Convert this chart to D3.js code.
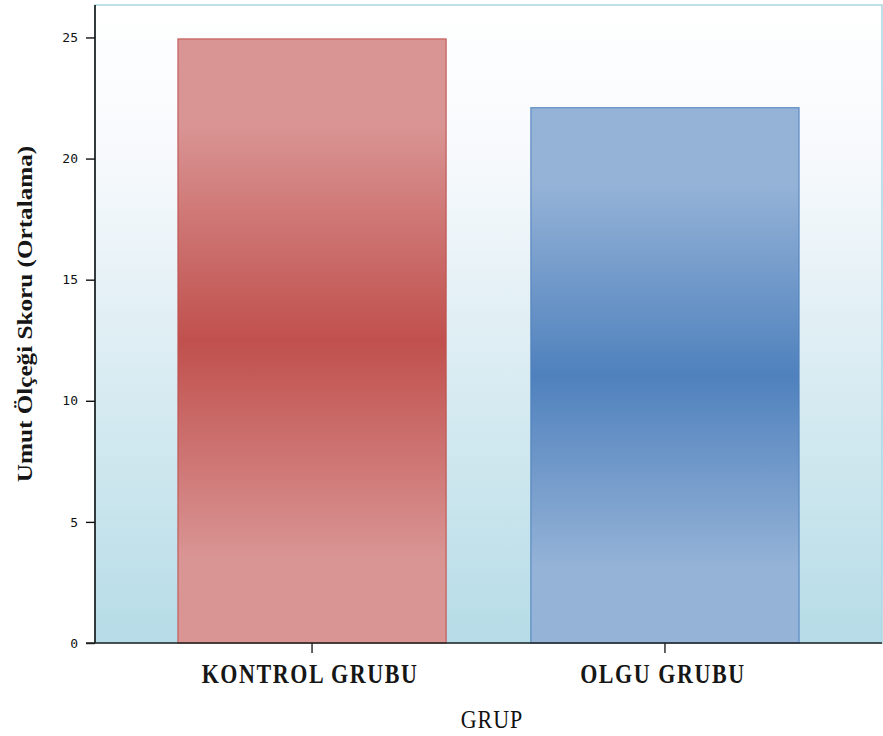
<!DOCTYPE html>
<html>
<head>
<meta charset="utf-8">
<script src="https://cdn.jsdelivr.net/npm/d3@7/dist/d3.min.js"></script>
<style>
  html, body { margin: 0; padding: 0; background: #ffffff; }
  svg { display: block; }
</style>
</head>
<body>
<svg id="chart" width="883" height="736"></svg>
<script>
// Mean hope-scale score by group
const categories = ["KONTROL GRUBU", "OLGU GRUBU"];
const meanScores = [24.94, 22.1];
const yTicks = [0, 5, 10, 15, 20, 25];
const barLight = ["#d99594", "#95b3d7"];
const barDark = ["#c0504d", "#4f81bd"];
const barStroke = ["#c0504d", "#4f81bd"];

const svg = d3.select("#chart");
const margin = { left: 95, top: 5, right: 1, bottom: 93 };
const W = 883, H = 736;
const plotW = W - margin.left - margin.right;
const plotH = H - margin.top - margin.bottom;
const serif = "'Liberation Serif', 'Times New Roman', serif";

const defs = svg.append("defs");

// Plot background: white at the top fading to pale blue at the bottom
const bg = defs.append("linearGradient").attr("id", "bgGrad")
  .attr("x1", 0).attr("y1", 0).attr("x2", 0).attr("y2", 1);
bg.append("stop").attr("offset", "0%").attr("stop-color", "#ffffff");
bg.append("stop").attr("offset", "25%").attr("stop-color", "#f6f9fc");
bg.append("stop").attr("offset", "55%").attr("stop-color", "#dcedf3");
bg.append("stop").attr("offset", "100%").attr("stop-color", "#b6dce7");

// Bar gradients: lighter at both ends, saturated in the middle
categories.forEach((c, i) => {
  const g = defs.append("linearGradient").attr("id", "barGrad" + i)
    .attr("x1", 0).attr("y1", 0).attr("x2", 0).attr("y2", 1);
  g.append("stop").attr("offset", "0%").attr("stop-color", barLight[i]);
  g.append("stop").attr("offset", "14%").attr("stop-color", barLight[i]);
  g.append("stop").attr("offset", "50%").attr("stop-color", barDark[i]);
  g.append("stop").attr("offset", "86%").attr("stop-color", barLight[i]);
  g.append("stop").attr("offset", "100%").attr("stop-color", barLight[i]);
});

const x = d3.scaleBand().domain(categories)
  .range([margin.left, margin.left + plotW]).paddingInner(0.24).paddingOuter(0.235);
const y = d3.scaleLinear().domain([0, 26.34]).range([margin.top + plotH, margin.top]);

// background + frame
svg.append("rect")
  .attr("x", margin.left).attr("y", margin.top)
  .attr("width", plotW).attr("height", plotH)
  .attr("fill", "url(#bgGrad)")
  .attr("stroke", "#a8d6e3").attr("stroke-width", 1.5);

// bars
svg.selectAll("rect.bar").data(categories).join("rect")
  .attr("class", "bar")
  .attr("x", d => x(d))
  .attr("width", x.bandwidth())
  .attr("y", (d, i) => y(meanScores[i]))
  .attr("height", (d, i) => y(0) - y(meanScores[i]))
  .attr("fill", (d, i) => "url(#barGrad" + i + ")")
  .attr("stroke", (d, i) => barStroke[i])
  .attr("stroke-opacity", 0.85)
  .attr("stroke-width", 1.2);

// y axis
const yAxis = svg.append("g")
  .attr("transform", `translate(${margin.left},0)`)
  .call(d3.axisLeft(y).tickValues(yTicks).tickSize(9).tickPadding(8).tickSizeOuter(0));
yAxis.select(".domain").attr("stroke", "#111").attr("stroke-width", 1.6)
  .attr("d", `M0,${margin.top}V${margin.top + plotH}`);
yAxis.selectAll(".tick line").attr("stroke", "#111").attr("stroke-width", 1.4);
yAxis.selectAll(".tick text")
  .attr("font-family", "'DejaVu Sans Mono', monospace")
  .attr("font-size", 13).attr("fill", "#111");

// x axis (ticks only; labels drawn below)
const xAxis = svg.append("g")
  .attr("transform", `translate(0,${margin.top + plotH})`)
  .call(d3.axisBottom(x).tickSize(10).tickSizeOuter(0).tickFormat(""));
xAxis.select(".domain").attr("stroke", "#222").attr("stroke-width", 1.6)
  .attr("d", `M${margin.left - 9},0H${margin.left + plotW}`);
xAxis.selectAll(".tick line").attr("stroke", "#222").attr("stroke-width", 1.4);

// category labels
svg.selectAll("text.cat").data(categories).join("text")
  .attr("class", "cat")
  .attr("transform", d => `translate(${x(d) + x.bandwidth() / 2 - 2},683) scale(1,1.22)`)
  .attr("text-anchor", "middle")
  .attr("font-family", serif)
  .attr("font-weight", "bold")
  .attr("font-size", 22)
  .attr("letter-spacing", "1.6px")
  .attr("fill", "#161616")
  .text(d => d);

// axis titles
svg.append("text")
  .attr("transform", `translate(32,314) rotate(-90) scale(1.26,1)`)
  .attr("text-anchor", "middle")
  .attr("font-family", serif)
  .attr("font-weight", "bold").attr("font-size", 20).attr("fill", "#161616")
  .text("Umut Ölçeği Skoru (Ortalama)");

svg.append("text")
  .attr("transform", "translate(492,728) scale(1,1.1)")
  .attr("text-anchor", "middle")
  .attr("font-family", serif)
  .attr("font-size", 22).attr("letter-spacing", "1px").attr("fill", "#111")
  .text("GRUP");
</script>
</body>
</html>
